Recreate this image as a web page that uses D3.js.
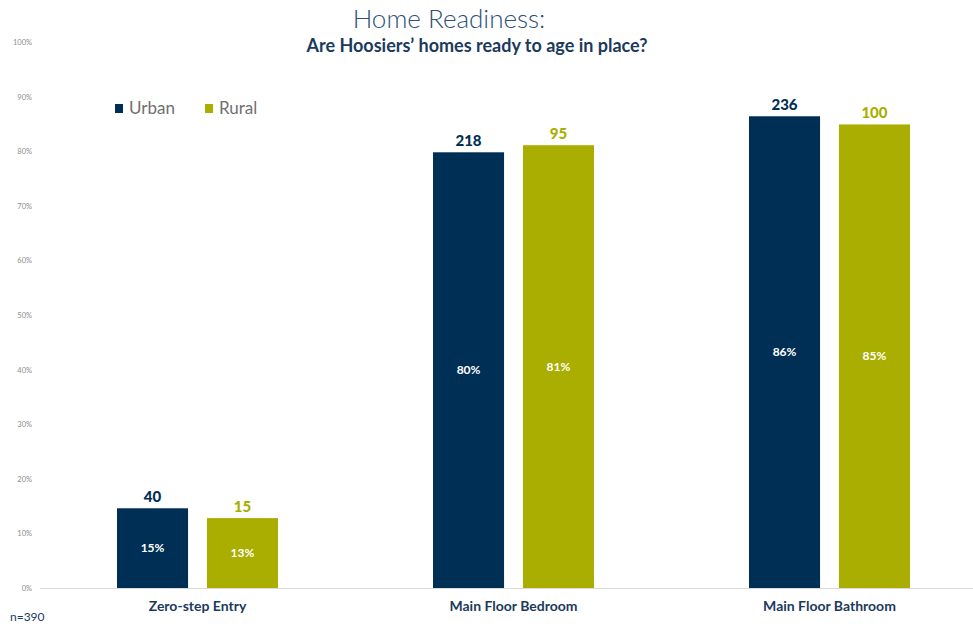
<!DOCTYPE html>
<html><head><meta charset="utf-8">
<script src="https://cdn.jsdelivr.net/npm/d3@7"></script>
<style>body{margin:0;background:#fff;} svg{display:block;font-family:Lato,"Noto Sans",sans-serif;}</style>
</head><body>
<svg id="c" width="973" height="624"></svg>
<script>
const categories = ["Zero-step Entry", "Main Floor Bedroom", "Main Floor Bathroom"];
const seriesNames = ["Urban", "Rural"];
const urbanPct = [14.6, 79.8, 86.4];
const ruralPct = [12.8, 81.1, 84.9];
const urbanCount = [40, 218, 236];
const ruralCount = [15, 95, 100];
const yTicks = [0, 10, 20, 30, 40, 50, 60, 70, 80, 90, 100];
const colors = {Urban: "#002f56", Rural: "#a9ae00"};

const svg = d3.select("#c");
const y = d3.scaleLinear().domain([0, 100]).range([588, 42]);
const x0 = d3.scaleBand().domain(categories).range([39.5, 987.5]).paddingInner(0).paddingOuter(0);
const x1 = d3.scaleBand().domain(seriesNames).range([77.5, 238.5]).paddingInner(0.21);

// y axis labels
const yAxis = d3.axisLeft(y).tickValues(yTicks).tickFormat(d => d + "%").tickSize(0).tickPadding(0);
const ya = svg.append("g").attr("transform", "translate(32,0)").call(yAxis);
ya.select(".domain").remove();
ya.selectAll("text").attr("fill", "#8c8c8c").style("font-size", "7.5px").style("font-family", "Lato,sans-serif");

// baseline
svg.append("line").attr("x1", 40).attr("x2", 973).attr("y1", y(0) + 0.5).attr("y2", y(0) + 0.5)
  .attr("stroke", "#d9d9d9").attr("stroke-width", 1);

const data = categories.map((c, i) => ({
  cat: c,
  vals: [
    {s: "Urban", pct: urbanPct[i], n: urbanCount[i]},
    {s: "Rural", pct: ruralPct[i], n: ruralCount[i]}
  ]
}));

const g = svg.append("g").selectAll("g").data(data).join("g")
  .attr("transform", d => `translate(${x0(d.cat)},0)`);

g.selectAll("rect").data(d => d.vals).join("rect")
  .attr("x", d => x1(d.s)).attr("width", x1.bandwidth())
  .attr("y", d => y(d.pct)).attr("height", d => y(0) - y(d.pct))
  .attr("fill", d => colors[d.s]);

g.selectAll("text.cnt").data(d => d.vals).join("text").attr("class", "cnt")
  .attr("x", d => x1(d.s) + x1.bandwidth() / 2).attr("y", d => y(d.pct) - 6)
  .attr("text-anchor", "middle").attr("fill", d => colors[d.s])
  .style("font-size", "15px").style("font-weight", "900").text(d => d.n);

g.selectAll("text.pct").data(d => d.vals).join("text").attr("class", "pct")
  .attr("x", d => x1(d.s) + x1.bandwidth() / 2).attr("y", d => (y(d.pct) + y(0)) / 2 + 4)
  .attr("text-anchor", "middle").attr("fill", "#fff")
  .style("font-size", "12px").style("font-weight", "700").text(d => Math.round(d.pct) + "%");

// category axis labels
svg.append("g").selectAll("text").data(categories).join("text")
  .attr("x", d => x0(d) + x0.bandwidth() / 2).attr("y", 611)
  .attr("text-anchor", "middle").attr("fill", "#1c3a5c")
  .style("font-size", "14px").style("font-weight", "700").text(d => d);

// title
svg.append("text").attr("x", 449).attr("y", 28).attr("text-anchor", "middle")
  .attr("fill", "#2e5073").style("font-size", "26px").style("font-weight", "300").text("Home Readiness:");
svg.append("text").attr("x", 477).attr("y", 52).attr("text-anchor", "middle")
  .attr("fill", "#1c3a5c").style("font-size", "18px").style("font-weight", "700")
  .text("Are Hoosiers\u2019 homes ready to age in place?");

// legend
const leg = svg.append("g").selectAll("g").data(seriesNames).join("g")
  .attr("transform", (d, i) => `translate(${115 + i * 90},104)`);
leg.append("rect").attr("width", 8).attr("height", 9).attr("fill", d => colors[d]);
leg.append("text").attr("x", 14).attr("y", 10).attr("fill", "#707070")
  .style("font-size", "17px").text(d => d);

// n
svg.append("text").attr("x", 10).attr("y", 621).attr("fill", "#1c3a5c")
  .style("font-size", "12px").text("n=390");
</script>
</body></html>
